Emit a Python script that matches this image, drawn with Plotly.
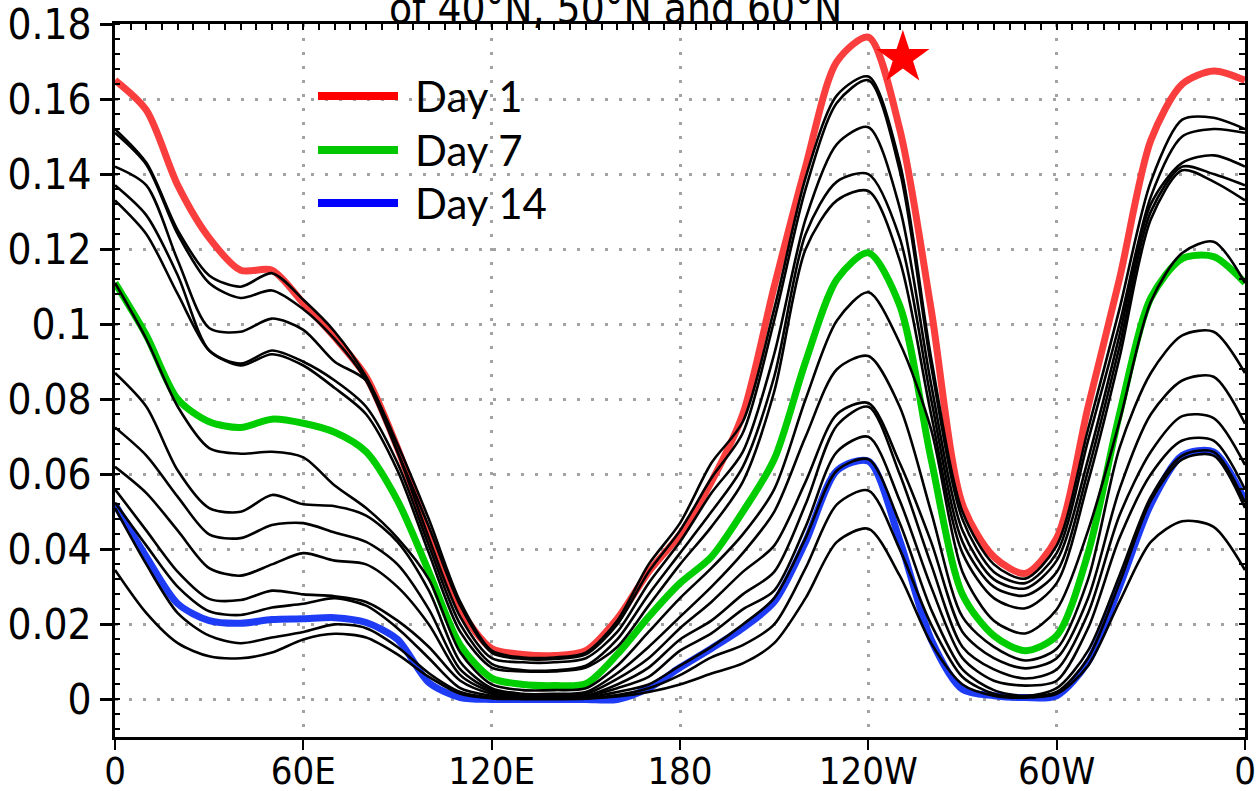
import plotly.graph_objects as go

# Longitudes (degrees east, 0..360)
lon = list(range(0, 361, 10))

# Highlighted days
day1 = [0.165,0.157,0.137,0.123,0.1144,0.1144,0.1056,0.0965,0.086,0.067,0.044,0.024,0.0136,0.012,0.0117,0.013,0.0215,0.034,0.044,0.058,0.076,0.110,0.142,0.170,0.1765,0.152,0.104,0.052,0.038,0.0336,0.043,0.078,0.112,0.149,0.164,0.1675,0.165]
day7 = [0.111,0.097,0.080,0.074,0.0725,0.0747,0.0736,0.0712,0.066,0.053,0.034,0.0145,0.0057,0.004,0.0037,0.0042,0.012,0.022,0.031,0.038,0.050,0.064,0.090,0.112,0.119,0.105,0.064,0.028,0.017,0.013,0.017,0.039,0.076,0.107,0.1175,0.118,0.111]
day14 = [0.052,0.038,0.0255,0.021,0.0203,0.0213,0.0215,0.0218,0.0205,0.016,0.0045,0.0005,0,0,0,0,0,0.003,0.0085,0.0136,0.019,0.026,0.042,0.061,0.0635,0.0424,0.016,0.0027,0.001,0.0005,0.001,0.010,0.030,0.052,0.065,0.066,0.053]

# Other days (black curves)
black_1 = [0.152,0.143,0.125,0.113,0.110,0.1136,0.1065,0.098,0.086,0.068,0.048,0.026,0.013,0.0112,0.0112,0.0125,0.021,0.036,0.047,0.063,0.074,0.104,0.139,0.161,0.166,0.143,0.091,0.050,0.036,0.0322,0.041,0.072,0.104,0.138,0.1545,0.155,0.152]
black_2 = [0.151,0.1425,0.124,0.111,0.107,0.109,0.104,0.096,0.085,0.066,0.046,0.025,0.0125,0.0108,0.0108,0.012,0.020,0.034,0.045,0.059,0.071,0.101,0.136,0.159,0.165,0.141,0.089,0.048,0.034,0.031,0.039,0.069,0.100,0.134,0.150,0.152,0.151]
black_3 = [0.142,0.137,0.117,0.099,0.098,0.1015,0.0985,0.090,0.085,0.066,0.043,0.022,0.011,0.0099,0.0099,0.011,0.018,0.031,0.042,0.055,0.066,0.092,0.128,0.148,0.1525,0.131,0.084,0.045,0.032,0.0296,0.037,0.064,0.097,0.132,0.143,0.145,0.142]
black_4 = [0.137,0.129,0.113,0.093,0.0895,0.093,0.090,0.085,0.078,0.063,0.041,0.020,0.0095,0.0078,0.0078,0.009,0.016,0.028,0.039,0.050,0.062,0.086,0.124,0.138,0.140,0.123,0.080,0.042,0.030,0.0277,0.034,0.061,0.094,0.130,0.142,0.140,0.137]
black_5 = [0.133,0.124,0.108,0.093,0.089,0.092,0.089,0.083,0.076,0.061,0.039,0.018,0.0085,0.0075,0.0075,0.0085,0.014,0.025,0.036,0.046,0.058,0.082,0.120,0.133,0.1355,0.117,0.076,0.039,0.027,0.0243,0.031,0.058,0.091,0.128,0.141,0.138,0.133]
black_6 = [0.111,0.096,0.078,0.067,0.0655,0.066,0.0645,0.057,0.051,0.043,0.032,0.0125,0.004,0.0025,0.0025,0.003,0.009,0.018,0.027,0.035,0.044,0.056,0.080,0.101,0.1085,0.095,0.072,0.034,0.021,0.0176,0.024,0.045,0.074,0.106,0.119,0.122,0.111]
black_7 = [0.087,0.078,0.061,0.051,0.050,0.0545,0.052,0.0515,0.049,0.042,0.029,0.010,0.003,0.0015,0.0015,0.002,0.007,0.014,0.022,0.030,0.039,0.050,0.070,0.088,0.0915,0.078,0.050,0.022,0.014,0.0104,0.0135,0.032,0.067,0.087,0.097,0.098,0.087]
black_8 = [0.0725,0.065,0.054,0.044,0.043,0.0465,0.047,0.0445,0.042,0.036,0.024,0.008,0.0025,0.001,0.001,0.0015,0.0055,0.011,0.019,0.026,0.034,0.041,0.058,0.076,0.079,0.063,0.042,0.018,0.011,0.0083,0.011,0.027,0.056,0.076,0.085,0.086,0.0735]
black_9 = [0.062,0.055,0.045,0.035,0.033,0.036,0.039,0.037,0.036,0.030,0.020,0.0065,0.002,0.0008,0.0008,0.001,0.004,0.0085,0.016,0.021,0.028,0.034,0.052,0.073,0.078,0.060,0.036,0.014,0.008,0.0056,0.008,0.023,0.049,0.066,0.0755,0.075,0.0625]
black_10 = [0.056,0.045,0.034,0.0268,0.0265,0.029,0.028,0.0275,0.026,0.021,0.014,0.005,0.0015,0.0005,0.0005,0.0008,0.003,0.006,0.013,0.0176,0.024,0.029,0.046,0.066,0.070,0.053,0.030,0.011,0.005,0.0037,0.005,0.019,0.043,0.060,0.069,0.069,0.056]
black_11 = [0.0525,0.041,0.030,0.0235,0.0225,0.0245,0.0255,0.027,0.025,0.019,0.011,0.003,0.001,0.0003,0.0003,0.0005,0.002,0.004,0.009,0.014,0.020,0.027,0.043,0.061,0.064,0.047,0.024,0.008,0.0025,0.001,0.003,0.013,0.033,0.054,0.065,0.066,0.0525]
black_12 = [0.051,0.036,0.023,0.017,0.015,0.0165,0.018,0.020,0.019,0.014,0.007,0.002,0.0005,0.0002,0.0002,0.0003,0.0012,0.003,0.0065,0.0112,0.0145,0.020,0.035,0.052,0.0557,0.040,0.020,0.006,0.0015,0.0008,0.002,0.011,0.031,0.053,0.064,0.065,0.051]
black_13 = [0.0345,0.023,0.015,0.0115,0.011,0.0125,0.016,0.0175,0.0165,0.012,0.006,0.0015,0.0003,0.0001,0.0001,0.0002,0.0008,0.002,0.004,0.0069,0.0096,0.015,0.027,0.042,0.0455,0.033,0.015,0.004,0.001,0.0005,0.0015,0.009,0.026,0.042,0.0475,0.046,0.0345]

# Star marker location
star_lon = [251]
star_val = [0.171]

# Axis ticks
x_tickvals = [0, 60, 120, 180, 240, 300, 360]
x_ticktext = ["0", "60E", "120E", "180", "120W", "60W", "0"]
y_tickvals = [0, 0.02, 0.04, 0.06, 0.08, 0.1, 0.12, 0.14, 0.16, 0.18]
y_ticktext = ["0", "0.02", "0.04", "0.06", "0.08", "0.1", "0.12", "0.14", "0.16", "0.18"]

legend_labels = ["Day 1", "Day 7", "Day 14"]
legend_colors = ["#ff0000", "#00c800", "#0000ff"]

NARROW = "Liberation Sans Narrow, Arial Narrow, DejaVu Sans Condensed, sans-serif"

fig = go.Figure()

for ys, col in [(day1, "rgb(250,62,62)"), (day7, "rgb(0,205,0)"), (day14, "rgb(30,60,245)")]:
    fig.add_trace(go.Scatter(x=lon, y=ys, mode="lines",
                             line=dict(color=col, width=7, shape="spline", smoothing=0.8),
                             showlegend=False, hoverinfo="skip"))

blacks = [black_1, black_2, black_3, black_4, black_5, black_6, black_7,
          black_8, black_9, black_10, black_11, black_12, black_13]
for ys in blacks:
    fig.add_trace(go.Scatter(x=lon, y=ys, mode="lines",
                             line=dict(color="black", width=2.6, shape="spline", smoothing=0.8),
                             showlegend=False, hoverinfo="skip"))

fig.add_trace(go.Scatter(x=star_lon, y=star_val, mode="markers",
                         marker=dict(symbol="star", size=40, color="#ff0000", line=dict(width=0)),
                         showlegend=False, hoverinfo="skip"))

# helper trace for mirrored minor-tick axes
fig.add_trace(go.Scatter(x=[None], y=[None], xaxis="x2", yaxis="y2",
                         showlegend=False, hoverinfo="skip"))

grid = dict(showgrid=True, gridcolor="#a3a3a3", gridwidth=3, griddash="3px,11px")

fig.update_layout(
    width=1260, height=791,
    margin=dict(l=115, r=15, t=24, b=54, autoexpand=False),
    paper_bgcolor="white", plot_bgcolor="white",
    showlegend=False,
    xaxis=dict(range=[0, 360], tickvals=x_tickvals, ticktext=x_ticktext,
               ticks="outside", ticklen=10, tickwidth=2, tickcolor="black",
               showline=True, linewidth=3, linecolor="black", mirror=True,
               automargin=False, ticklabeloverflow="allow", ticklabelstandoff=-12,
               zeroline=False, tickfont=dict(family=NARROW, size=38, color="black"),
               **grid),
    yaxis=dict(range=[-0.01, 0.18], tickvals=y_tickvals, ticktext=y_ticktext,
               ticks="outside", ticklen=12, tickwidth=3, tickcolor="black",
               showline=True, linewidth=3, linecolor="black", mirror=True,
               automargin=False, ticklabeloverflow="allow",
               zeroline=False, tickfont=dict(family=NARROW, size=42, color="black"),
               minor=dict(ticks="inside", tick0=0, dtick=0.004, ticklen=5, tickwidth=2,
                          tickcolor="black", showgrid=False),
               **grid),
    xaxis2=dict(range=[0, 360], overlaying="x", side="top", ticks="inside",
                tick0=0, dtick=5, ticklen=6, tickwidth=2, tickcolor="black",
                automargin=False,
                showticklabels=False, showgrid=False, showline=False, zeroline=False),
    yaxis2=dict(range=[-0.01, 0.18], overlaying="y", side="right", ticks="inside",
                tick0=0, dtick=0.004, ticklen=6, tickwidth=2, tickcolor="black",
                automargin=False,
                showticklabels=False, showgrid=False, showline=False, zeroline=False),
)

# manual legend
def px_x(p):
    return (p - 115) / 1130.0

def px_y(p):
    return (737 - p) / 713.0

legend_rows = [96, 150, 203]
for lab, col, row in zip(legend_labels, legend_colors, legend_rows):
    fig.add_shape(type="line", xref="paper", yref="paper",
                  x0=px_x(318), x1=px_x(398), y0=px_y(row), y1=px_y(row),
                  line=dict(color=col, width=8))
    fig.add_annotation(xref="paper", yref="paper", x=px_x(413), y=px_y(row),
                       xanchor="left", yanchor="middle", showarrow=False,
                       text=lab, font=dict(family="Lato, Carlito, sans-serif", size=42, color="black"))

# title (its top runs off the page, as in the original)
fig.add_annotation(xref="paper", yref="paper", x=px_x(615), y=1.0, yshift=-11,
                   xanchor="center", yanchor="bottom", showarrow=False,
                   text="of 40°N, 50°N and 60°N",
                   font=dict(family=NARROW, size=42, color="black"))

fig.write_html("out.html")
